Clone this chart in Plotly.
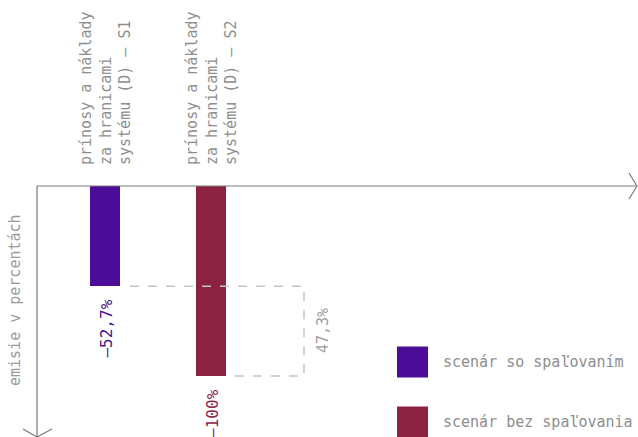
import plotly.graph_objects as go

# --- data -----------------------------------------------------------------
categories = ["prínosy a náklady<br>za hranicami<br>systému (D) – S1",
              "prínosy a náklady<br>za hranicami<br>systému (D) – S2"]
scenarios = ["scenár so spaľovaním", "scenár bez spaľovania"]
values = [-52.7, -100.0]
colors = ["#4b0c98", "#8c2242"]
label_colors = ["#4b1590", "#8a2545"]
axis_title = "emisie v percentách"

W, H = 638, 437
FONT = "DejaVu Sans Mono"
GRAY = "#8e8e8e"
AXIS = "#7a7a7a"

# axis ranges: x unit = distance between the two bars, y in percent
X0_PX, X_UNIT = 105.0, 106.0
Y0_PX, Y_UNIT = 186.0, 1.9
x_range = [(0 - X0_PX) / X_UNIT, (W - X0_PX) / X_UNIT]
y_range = [-(H - Y0_PX) / Y_UNIT, Y0_PX / Y_UNIT]


def px_x(p):
    return (p - X0_PX) / X_UNIT


def px_y(p):
    return (Y0_PX - p) / Y_UNIT


positions = list(range(len(values)))
bar_w = 30 / X_UNIT

fig = go.Figure()
for i, (name, v, c) in enumerate(zip(scenarios, values, colors)):
    fig.add_trace(go.Bar(x=[positions[i]], y=[v], name=name, width=bar_w,
                         marker=dict(color=c, line=dict(width=0)),
                         showlegend=False, hoverinfo="skip"))

shapes = []
annotations = []

# axes with open arrowheads
line = dict(color=AXIS, width=1.2)
shapes.append(dict(type="line", xref="x", yref="y", x0=px_x(37), x1=px_x(636),
                   y0=0, y1=0, line=line))
shapes.append(dict(type="path", xref="x", yref="y",
                   path=f"M {px_x(629)} {px_y(173)} L {px_x(637)} {px_y(186)} L {px_x(629)} {px_y(199)}",
                   line=line))
shapes.append(dict(type="line", xref="x", yref="y", x0=px_x(37), x1=px_x(37),
                   y0=0, y1=y_range[0], line=line))
shapes.append(dict(type="path", xref="x", yref="y",
                   path=f"M {px_x(23)} {px_y(429)} L {px_x(37)} {px_y(437)} L {px_x(52)} {px_y(429)}",
                   line=line))

# dashed bracket showing the difference between the scenarios
diff = values[0] - values[1]
dash = dict(color="#c4c4c4", width=1.5, dash="dash")
xb = px_x(304)
shapes.append(dict(type="path", xref="x", yref="y",
                   path=(f"M {positions[0] + bar_w / 2 + 10 / X_UNIT} {values[0]} "
                         f"L {xb} {values[0]} L {xb} {values[1]} "
                         f"L {positions[1] + bar_w / 2 + 9 / X_UNIT} {values[1]}"),
                   line=dash))
annotations.append(dict(x=px_x(323), y=(values[0] + values[1]) / 2,
                        text=f"{diff:.1f}%".replace(".", ","), textangle=-90,
                        showarrow=False, font=dict(family=FONT, size=15, color="#a0a0a0")))

# value labels under the bars
for p, v, c in zip(positions, values, label_colors):
    txt = (f"{v:.1f}%" if v % 1 else f"{v:.0f}%").replace(".", ",").replace("-", "–")
    annotations.append(dict(x=p + 2 / X_UNIT, y=v - 6, yanchor="top", text=txt, textangle=-90,
                            showarrow=False, font=dict(family=FONT, size=16, color=c)))

# category labels above the axis
for p, cat in zip(positions, categories):
    annotations.append(dict(x=p, y=px_y(167), yanchor="bottom", text=cat, textangle=-90,
                            align="left", showarrow=False,
                            font=dict(family=FONT, size=15, color=GRAY)))

# axis title
annotations.append(dict(x=px_x(15), y=px_y(300), text=axis_title, textangle=-90,
                        showarrow=False, font=dict(family=FONT, size=15, color="#9a9a9a")))

# legend drawn as swatches with text
leg_y = [362, 422]
for yc, name, c in zip(leg_y, scenarios, colors):
    shapes.append(dict(type="rect", xref="x", yref="y", x0=px_x(397), x1=px_x(428),
                       y0=px_y(yc - 15.5), y1=px_y(yc + 15.5), fillcolor=c, line=dict(width=0)))
    annotations.append(dict(x=px_x(441), y=px_y(yc), xanchor="left", text=name,
                            showarrow=False, font=dict(family=FONT, size=15, color=GRAY)))

fig.update_layout(
    width=W, height=H, autosize=False,
    margin=dict(l=0, r=0, t=0, b=0),
    paper_bgcolor="white", plot_bgcolor="white",
    xaxis=dict(range=x_range, visible=False, fixedrange=True),
    yaxis=dict(range=y_range, visible=False, fixedrange=True),
    shapes=shapes, annotations=annotations,
    bargap=0, showlegend=False,
)

fig.write_html("out.html")
